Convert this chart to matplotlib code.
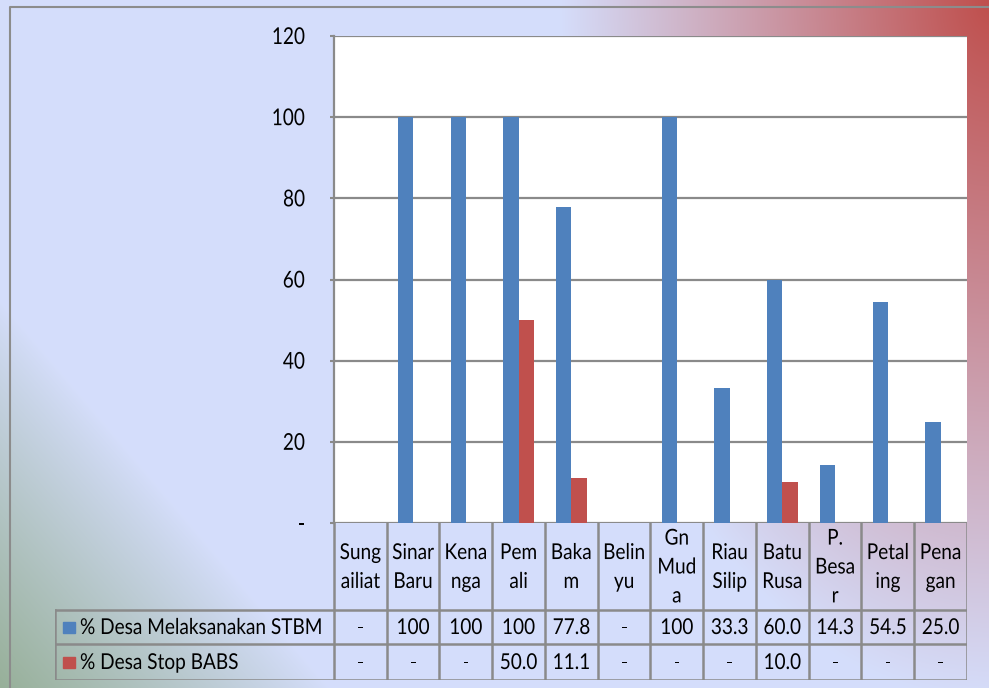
import numpy as np
import matplotlib
matplotlib.use("Agg")
import matplotlib.pyplot as plt
from matplotlib.patches import Rectangle
from matplotlib.patheffects import AbstractPathEffect
from matplotlib.transforms import Affine2D

categories = ["Sung\nailiat", "Sinar\nBaru", "Kena\nnga", "Pem\nali", "Baka\nm", "Belin\nyu",
              "Gn\nMud\na", "Riau\nSilip", "Batu\nRusa", "P.\nBesa\nr", "Petal\ning", "Pena\ngan"]
series_names = ["% Desa Melaksanakan STBM", "% Desa Stop BABS"]
stbm = [0, 100, 100, 100, 77.8, 0, 100, 33.3, 60.0, 14.3, 54.5, 25.0]
babs = [0, 0, 0, 50.0, 11.1, 0, 0, 0, 10.0, 0, 0, 0]
yticks = [0, 20, 40, 60, 80, 100, 120]
ytick_labels = ["-", "20", "40", "60", "80", "100", "120"]

BLUE = "#4f81bd"
RED = "#c0504d"
GRID = "#8a8a8a"
FONT = ["Lato", "DejaVu Sans"]
FS = 13.7


class Stretch(AbstractPathEffect):
    def __init__(self, sy=1.15):
        super().__init__()
        self.sy = sy

    def draw_path(self, renderer, gc, tpath, affine, rgbFace=None):
        renderer.draw_path(gc, tpath, Affine2D().scale(1, self.sy) + affine, rgbFace)


PE = [Stretch(1.15)]
PE_T = [Stretch(1.22)]

W, H = 989, 688
fig = plt.figure(figsize=(W / 100, H / 100), dpi=100)

# background gradient
yy, xx = np.mgrid[0:H, 0:W].astype(float)
base = np.array([0.835, 0.870, 0.985])
red = np.array([0.75, 0.31, 0.30])
green = np.array([0.58, 0.68, 0.58])
d = np.sqrt(((W - xx) / 430) ** 2 + (yy / 700) ** 2)
wr = np.clip(1 - d, 0, 1)[..., None]
t = (xx + 0.85 * (H - yy)) / 330
wg = (np.clip(1 - t, 0, 1) ** 0.9 * 0.95)[..., None]
img = base * (1 - wr) + red * wr
img = img * (1 - wg) + green * wg
bg = fig.add_axes([0, 0, 1, 1])
bg.imshow(img, extent=[0, W, H, 0], aspect="auto", interpolation="bilinear")
bg.set_xlim(0, W)
bg.set_ylim(H, 0)
bg.axis("off")
bg.plot([10, 10, W], [H, 7, 7], color="#8c8c8c", lw=1.5, solid_capstyle="butt")

# plot area
L, R, T, B = 334, 967, 36, 523
ax = fig.add_axes([L / W, (H - B) / H, (R - L) / W, (B - T) / H])
ax.set_facecolor("white")
n = len(categories)
x = np.arange(n)
bw = 0.29
ax.bar(x - bw / 2, stbm, width=bw, color=BLUE, zorder=3)
ax.bar(x + bw / 2, babs, width=bw, color=RED, zorder=3)
ax.set_xlim(-0.5, n - 0.5)
ax.set_ylim(0, 120)
ax.set_yticks(yticks)
ax.set_yticklabels([])
ax.set_xticks([])
for v in yticks:
    ax.axhline(v, color=GRID, lw=1.6, zorder=2)
for s in ["top", "right", "bottom"]:
    ax.spines[s].set_visible(False)
ax.spines["left"].set_color(GRID)
ax.spines["left"].set_linewidth(1.6)
ax.tick_params(axis="y", length=3, width=1.5, color=GRID)
xlab = -(L - 305) / (R - L)
ytr = ax.get_yaxis_transform() + Affine2D().translate(0, -8)
for v, lab in zip(yticks, ytick_labels):
    ax.text(xlab, v, lab, transform=ytr, ha="right", va="baseline",
            family=FONT, fontsize=FS, path_effects=PE_T)

# data table
TL = 55
r1, r2, r3 = 610, 644, 680
cw = (R - L) / n
tax = fig.add_axes([TL / W, (H - r3) / H, (R - TL) / W, (r3 - B) / H])
x_left = -0.5 - (L - TL) / cw
tax.set_xlim(x_left, n - 0.5)
tax.set_ylim(r3, B)
tax.axis("off")
lk = dict(color=GRID, lw=1.8, solid_capstyle="projecting")
for i in range(n + 1):
    tax.plot([i - 0.5, i - 0.5], [B, r3], **lk)
tax.plot([x_left, x_left], [r1, r3], **lk)
for yv in [r1, r2, r3]:
    tax.plot([x_left, n - 0.5], [yv, yv], **lk)


def fmt(v):
    if v == 0:
        return "-"
    if v == 100:
        return "100"
    return f"{v:.1f}"


for i, c in enumerate(categories):
    tax.text(i, (B + r1) / 2 + 1.5, c, ha="center", va="center", family=FONT,
             fontsize=FS, linespacing=1.85, path_effects=PE)
    tax.text(i, (r1 + r2) / 2 + 1.5, fmt(stbm[i]), ha="center", va="center", family=FONT,
             fontsize=FS, path_effects=PE)
    tax.text(i, (r2 + r3) / 2 + 1.5, fmt(babs[i]), ha="center", va="center", family=FONT,
             fontsize=FS, path_effects=PE)

px = 1 / cw
for yc, col, name in [((r1 + r2) / 2, BLUE, series_names[0]), ((r2 + r3) / 2, RED, series_names[1])]:
    tax.add_patch(Rectangle((x_left + 8 * px, yc - 5.5), 12 * px, 11.5, color=col))
    tax.text(x_left + 25 * px, yc + 1.5, name, ha="left", va="center", family=FONT,
             fontsize=FS, path_effects=PE)

fig.savefig("out.png", dpi=100)
